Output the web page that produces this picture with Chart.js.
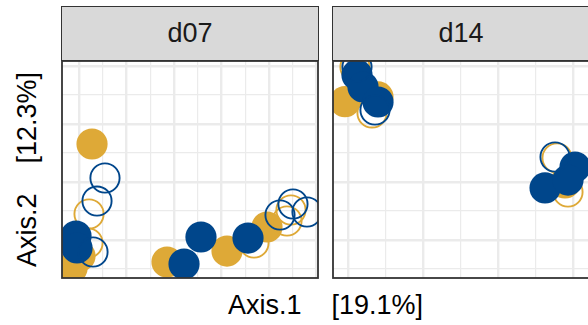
<!DOCTYPE html>
<html>
<head>
<meta charset="utf-8">
<script src="https://cdn.jsdelivr.net/npm/chart.js@4.4.0/dist/chart.umd.min.js"></script>
<style>
  html, body { margin: 0; padding: 0; background: #fff; overflow: hidden; }
  #wrap {
    position: relative; width: 588px; height: 325px; overflow: hidden;
    font-family: "Liberation Sans", Arial, Helvetica, sans-serif;
  }
  .strip {
    position: absolute; top: 6px; width: 258px; height: 55px;
    box-sizing: border-box; background: #d9d9d9; border: 1.6px solid #333;
    color: #1a1a1a; font-size: 27px; line-height: 52px; text-align: center;
  }
  .panel { position: absolute; top: 60px; }
  #xtitle {
    position: absolute; left: 0; width: 651px; top: 292px;
    font-size: 27px; line-height: 27px; text-align: center; white-space: pre; color: #000;
  }
  #ytitle {
    position: absolute; left: -123px; top: 156px; width: 300px; height: 27px;
    font-size: 27px; line-height: 27px; text-align: center; white-space: pre; color: #000;
    transform: rotate(-90deg);
  }
</style>
</head>
<body>
<div id="wrap">
  <div class="strip" style="left:61px">d07</div>
  <div class="strip" style="left:332px">d14</div>
  <canvas id="p07" class="panel" width="258" height="219" style="left:61px"></canvas>
  <canvas id="p14" class="panel" width="258" height="219" style="left:332px"></canvas>
  <div id="xtitle">Axis.1    [19.1%]</div>
  <div id="ytitle">Axis.2    [12.3%]</div>
</div>
<script>
// ordination scores, one array per colour / shape group
const d07GoldSolid = [[-0.1726, 0.0655], [-0.2147, -0.1483], [-0.1979, -0.1276], [-0.0147, -0.1379], [0.1116, -0.119], [0.1958, -0.0776]];
const d07GoldOpen  = [[-0.1789, -0.0552], [-0.1811, -0.1052], [0.1684, -0.1052], [0.2379, -0.0672], [0.2463, -0.0483]];
const d07BlueSolid = [[-0.2063, -0.0931], [-0.2042, -0.1138], [0.0211, -0.1414], [0.0568, -0.0948], [0.1558, -0.0966]];
const d07BlueOpen  = [[-0.1453, 0.0069], [-0.1621, -0.0328], [-0.1705, -0.1207], [0.2232, -0.0569], [0.2505, -0.0379], [0.28, -0.0517]];

const d14GoldSolid = [[-0.204, 0.1384], [-0.16, 0.1466], [0.0893, -0.0017]];
const d14GoldOpen  = [[-0.1907, 0.1983], [-0.168, 0.119], [0.0787, 0.0414], [0.0933, -0.0172]];
const d14BlueSolid = [[-0.188, 0.1845], [-0.18, 0.1638], [-0.16, 0.1379], [0.0627, -0.0103], [0.1027, 0.0259], [0.0933, 0.0034]];
const d14BlueOpen  = [[-0.188, 0.1983], [-0.164, 0.1241], [0.076, 0.0431]];

// grid breaks (no tick labels are shown)
const ticksX07 = [-0.2, -0.15, -0.1, -0.05, 0, 0.05, 0.1, 0.15, 0.2, 0.25, 0.3];
const majorX07 = [-0.2, -0.1, 0, 0.1, 0.2, 0.3];
const ticksX14 = [-0.2, -0.15, -0.1, -0.05, 0, 0.05, 0.1];
const majorX14 = [-0.2, -0.1, 0, 0.1];
const ticksY = [-0.15, -0.1, -0.05, 0, 0.05, 0.1, 0.15, 0.2];
const majorY = [-0.1, 0, 0.1, 0.2];

const rangeX07 = [-0.2358, 0.3032];
const rangeX14 = [-0.22, 0.1213];
const rangeY = [-0.1655, 0.2086];

const GOLD = '#dea937';
const BLUE = '#00468b';

const isMajor = (list, v) => list.some(m => Math.abs(m - v) < 1e-6);

// panel border goes on top of the points, like ggplot's theme_bw
const panelBorder = {
  id: 'panelBorder',
  afterDatasetsDraw(chart) {
    const a = chart.chartArea;
    const ctx = chart.ctx;
    ctx.save();
    ctx.strokeStyle = '#333333';
    ctx.lineWidth = 1.8;
    ctx.strokeRect(a.left, a.top, a.right - a.left, a.bottom - a.top);
    ctx.restore();
  }
};

function gridAxis(range, ticks, majors) {
  return {
    type: 'linear',
    min: range[0],
    max: range[1],
    afterBuildTicks: s => { s.ticks = ticks.map(v => ({ value: v })); },
    ticks: { display: false },
    border: { display: false },
    grid: {
      drawTicks: false,
      color: '#ebebeb',
      lineWidth: c => isMajor(majors, c.tick.value) ? 2.4 : 1.2
    }
  };
}

function pointSet(pts, color, open) {
  return {
    data: pts.map(p => ({ x: p[0], y: p[1] })),
    pointStyle: 'circle',
    pointRadius: open ? 14.6 : 15.6,
    pointHoverRadius: open ? 14.6 : 15.6,
    pointBorderWidth: open ? 1.9 : 0,
    pointBackgroundColor: open ? 'rgba(0,0,0,0)' : color,
    pointBorderColor: color,
    clip: 0
  };
}

function makePanel(id, rangeX, ticksX, majorX, sets) {
  // Chart.js paints dataset 0 last, so reverse to get gold under blue
  new Chart(document.getElementById(id), {
    type: 'scatter',
    data: { datasets: sets.slice().reverse() },
    options: {
      responsive: false,
      animation: false,
      events: [],
      layout: { padding: 1, autoPadding: false },
      plugins: { legend: { display: false }, tooltip: { enabled: false } },
      scales: {
        x: gridAxis(rangeX, ticksX, majorX),
        y: gridAxis(rangeY, ticksY, majorY)
      }
    },
    plugins: [panelBorder]
  });
}

makePanel('p07', rangeX07, ticksX07, majorX07, [
  pointSet(d07GoldSolid, GOLD, false),
  pointSet(d07GoldOpen, GOLD, true),
  pointSet(d07BlueSolid, BLUE, false),
  pointSet(d07BlueOpen, BLUE, true)
]);

makePanel('p14', rangeX14, ticksX14, majorX14, [
  pointSet(d14GoldSolid, GOLD, false),
  pointSet(d14GoldOpen, GOLD, true),
  pointSet(d14BlueSolid, BLUE, false),
  pointSet(d14BlueOpen, BLUE, true)
]);
</script>
</body>
</html>
